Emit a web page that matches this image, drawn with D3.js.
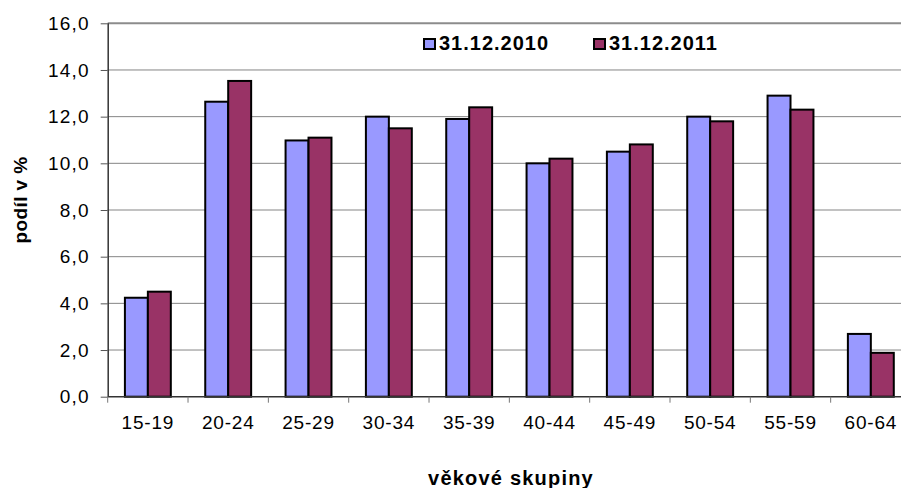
<!DOCTYPE html>
<html>
<head>
<meta charset="utf-8">
<script src="https://d3js.org/d3.v7.min.js"></script>
<style>
  body { margin: 0; background: #fff; }
  svg { display: block; font-family: Arial, "Liberation Sans", sans-serif; }
</style>
</head>
<body>
<script>
// data
var groups = ["15-19", "20-24", "25-29", "30-34", "35-39", "40-44", "45-49", "50-54", "55-59", "60-64"];
var series = ["31.12.2010", "31.12.2011"];
var values2010 = [4.24, 12.64, 10.98, 12.0, 11.9, 10.0, 10.5, 12.0, 12.9, 2.69];
var values2011 = [4.5, 13.53, 11.1, 11.5, 12.4, 10.2, 10.81, 11.8, 12.3, 1.88];
var yTicks = [0, 2, 4, 6, 8, 10, 12, 14, 16];
var colors = ["#9999ff", "#993366"];

var w = 901, h = 488;
// plot area (runs past the right edge like in the original)
var pLeft = 107.7, pRight = 911, pTop = 23.3, pBottom = 396.7;

var rows = groups.map(function (g, i) {
  return { group: g, vals: [values2010[i], values2011[i]] };
});

var svg = d3.select("body").append("svg")
  .attr("width", w)
  .attr("height", h);

var x = d3.scaleBand().domain(groups).range([pLeft, pRight]).padding(0);
var xs = d3.scaleBand().domain(series).range([0, x.bandwidth()])
  .paddingInner(0).paddingOuter(0.75);
var y = d3.scaleLinear().domain([0, 16]).range([pBottom, pTop]);

// gridlines
svg.append("g")
  .selectAll("line")
  .data(yTicks.filter(function (d) { return d > 0 && d < 16; }))
  .enter().append("line")
  .attr("x1", pLeft).attr("x2", pRight)
  .attr("y1", function (d) { return y(d); })
  .attr("y2", function (d) { return y(d); })
  .attr("stroke", "#858585")
  .attr("stroke-width", 1);

// top border of plot area
svg.append("line")
  .attr("x1", pLeft).attr("x2", pRight)
  .attr("y1", y(16)).attr("y2", y(16))
  .attr("stroke", "#8c8c8c")
  .attr("stroke-width", 2);

// bars
var grp = svg.append("g").selectAll("g")
  .data(rows)
  .enter().append("g")
  .attr("transform", function (d) { return "translate(" + x(d.group) + ",0)"; });

grp.selectAll("rect")
  .data(function (d) { return d.vals.map(function (v, k) { return { s: series[k], v: v, k: k }; }); })
  .enter().append("rect")
  .attr("x", function (d) { return xs(d.s); })
  .attr("y", function (d) { return y(d.v); })
  .attr("width", xs.bandwidth())
  .attr("height", function (d) { return y(0) - y(d.v); })
  .attr("fill", function (d) { return colors[d.k]; })
  .attr("stroke", "#000")
  .attr("stroke-width", 2);

// y axis
var yAxis = d3.axisLeft(y)
  .tickValues(yTicks)
  .tickFormat(function (d) { return d.toFixed(1).replace(".", ","); })
  .tickSize(7)
  .tickPadding(11);

var ya = svg.append("g")
  .attr("transform", "translate(" + pLeft + ",0)")
  .call(yAxis);
ya.select(".domain").attr("stroke", "#333").attr("stroke-width", 1.5)
  .attr("d", "M0.5," + pTop + "V" + pBottom);
ya.selectAll(".tick line").attr("stroke", "#555");
ya.selectAll("text")
  .attr("font-size", 19)
  .attr("letter-spacing", 1.2)
  .attr("font-family", "Arial, 'Liberation Sans', sans-serif")
  .attr("fill", "#000");

// x axis
var xAxis = d3.axisBottom(x).tickSize(0).tickPadding(19);
var xa = svg.append("g")
  .attr("transform", "translate(0," + pBottom + ")")
  .call(xAxis);
xa.select(".domain").attr("stroke", "#333").attr("stroke-width", 1.5)
  .attr("d", "M" + pLeft + ",0H" + pRight);
xa.selectAll("text")
  .attr("font-size", 19)
  .attr("letter-spacing", 0.8)
  .attr("font-family", "Arial, 'Liberation Sans', sans-serif")
  .attr("fill", "#000");

// category separators on x axis
xa.append("g").selectAll("line")
  .data(groups.concat(["end"]))
  .enter().append("line")
  .attr("x1", function (d, i) { return pLeft + i * x.step(); })
  .attr("x2", function (d, i) { return pLeft + i * x.step(); })
  .attr("y1", 0).attr("y2", 6)
  .attr("stroke", "#777");

// axis titles
svg.append("text")
  .attr("transform", "translate(27,200) rotate(-90)")
  .attr("text-anchor", "middle")
  .attr("font-size", 19)
  .attr("font-weight", "bold")
  .attr("letter-spacing", 0.4)
  .text("podíl v %");

svg.append("text")
  .attr("x", 511)
  .attr("y", 485)
  .attr("text-anchor", "middle")
  .attr("font-size", 20)
  .attr("font-weight", "bold")
  .attr("letter-spacing", 1.2)
  .text("věkové skupiny");

// legend
var legendX = [424, 594];
var leg = svg.append("g").selectAll("g")
  .data(series)
  .enter().append("g")
  .attr("transform", function (d, i) { return "translate(" + legendX[i] + ",0)"; });

leg.append("rect")
  .attr("x", 0).attr("y", 39)
  .attr("width", 11).attr("height", 10)
  .attr("fill", function (d, i) { return colors[i]; })
  .attr("stroke", "#000")
  .attr("stroke-width", 2);

leg.append("text")
  .attr("x", 15)
  .attr("y", 50)
  .attr("font-size", 20)
  .attr("font-weight", "bold")
  .attr("letter-spacing", 1)
  .text(function (d) { return d; });
</script>
</body>
</html>
